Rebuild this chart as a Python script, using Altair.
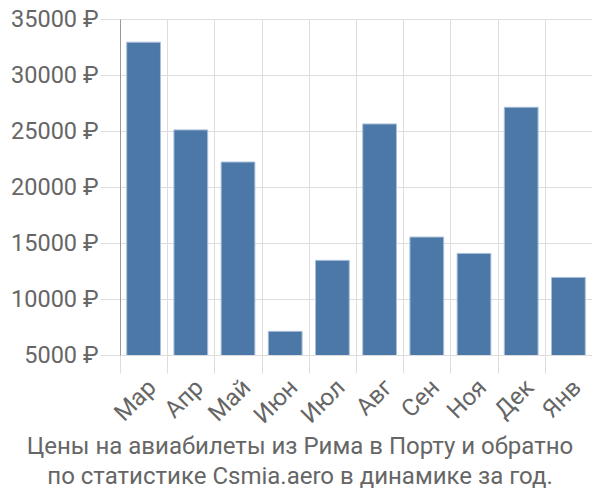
import altair as alt
import pandas as pd

months = ["Мар", "Апр", "Май", "Июн", "Июл", "Авг", "Сен", "Ноя", "Дек", "Янв"]
prices = [32930, 25100, 22230, 7110, 13450, 25630, 15530, 14070, 27120, 11930]
y_ticks = [5000, 10000, 15000, 20000, 25000, 30000, 35000]
title_lines = ["Цены на авиабилеты из Рима в Порту и обратно",
               "по статистике Csmia.aero в динамике за год."]

df = pd.DataFrame({"month": months, "price": prices})

FONT = "Roboto"
TXT = "#666666"
GRID = "#dddddd"

chart = alt.Chart(df).mark_bar(
    width=alt.RelativeBandSize(0.715),
    color="#4c78a8",
    stroke="#a9bfd9",
    strokeWidth=1,
    clip=True,
).encode(
    x=alt.X("month:N", sort=months, title=None,
            scale=alt.Scale(paddingInner=0, paddingOuter=0),
            axis=alt.Axis(labelAngle=-45, labelFontSize=24, labelColor=TXT,
                          labelFont=FONT, grid=True, gridColor=GRID,
                          bandPosition=0, tickColor=GRID, tickSize=18,
                          tickBand="extent",
                          domain=False, labelPadding=2)),
    y=alt.Y("price:Q", title=None,
            scale=alt.Scale(domain=[5000, 35000], nice=False, zero=False),
            axis=alt.Axis(values=y_ticks, labelExpr="datum.value + ' ₽'",
                          labelFontSize=23.5, labelColor=TXT, labelFont=FONT,
                          gridColor=GRID, tickColor=GRID, tickSize=20,
                          domainColor="#999999", labelPadding=2)),
).properties(
    width=472,
    height=336,
    title=alt.TitleParams(text=title_lines, orient="bottom", anchor="middle",
                          fontSize=24, font=FONT, color=TXT, fontWeight="normal",
                          offset=7, lineHeight=30, dx=-56),
    autosize=alt.AutoSizeParams(type="none"),
    padding={"left": 112, "top": 11, "right": 0, "bottom": 137},
).configure_view(stroke=None)

chart.save("out.html", embed_options={"renderer": "svg", "actions": False})
